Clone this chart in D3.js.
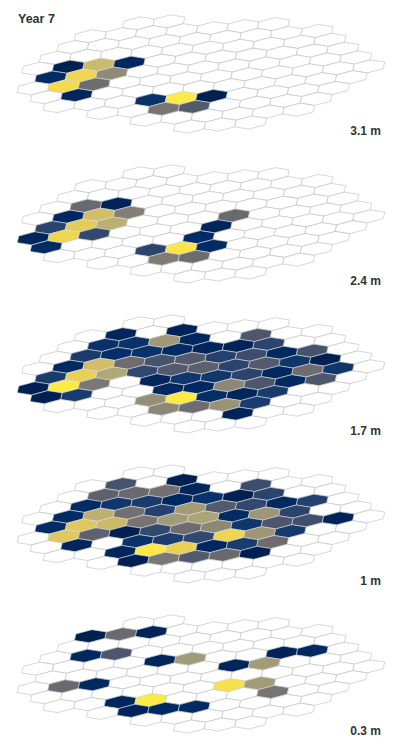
<!DOCTYPE html>
<html>
<head>
<meta charset="utf-8">
<script src="https://cdn.jsdelivr.net/npm/d3@7"></script>
<style>
  html, body { margin: 0; padding: 0; background: #ffffff; }
  svg { display: block; }
  text { font-family: "Liberation Sans", Arial, sans-serif; }
</style>
</head>
<body>
<div id="chart"></div>
<script>
// ---- data ----
const title = "Year 7";
const layerLabels = ["3.1 m", "2.4 m", "1.7 m", "1 m", "0.3 m"];

// grid footprint: [row j, first column i, last column i]
const gridRows = [
  [-4, 4, 5], [-3, 2, 8], [-2, 1, 9], [-1, 0, 9], [0, -1, 9], [1, -1, 9],
  [2, -2, 9], [3, -2, 8], [4, -2, 7], [5, -1, 6], [6, 0, 5], [7, 1, 3]
];

// filled cells per layer: [i, j, value 0..1]
const cells31 = [
  [0,0,0.0],[1,0,0.8],[2,0,0.04],[-1,1,0.06],[0,1,0.92],[1,1,0.58],
  [-1,2,0.94],[0,2,0.42],[-1,3,0.03],[1,4,0.1],[2,4,1.0],[3,4,0.0],
  [1,5,0.46],[2,5,0.32]
];
const cells24 = [
  [1,-1,0.4],[2,-1,0.02],[0,0,0.04],[1,0,0.82],[2,0,0.52],[-1,1,0.2],
  [0,1,0.88],[1,1,0.75],[-2,2,0.03],[-1,2,0.92],[0,2,0.22],[-2,3,0.06],
  [5,1,0.4],[4,2,0.03],[3,3,0.06],[1,4,0.2],[2,4,0.98],[3,4,0.06],
  [1,5,0.5],[2,5,0.42]
];
const cells17 = [
  [3,-3,0.03],[5,-3,0.02],
  [2,-2,0.1],[3,-2,0.1],[4,-2,0.65],[5,-2,0.04],[7,-2,0.3],
  [1,-1,0.15],[2,-1,0.08],[3,-1,0.1],[4,-1,0.06],[5,-1,0.03],[6,-1,0.02],[7,-1,0.2],
  [0,0,0.05],[1,0,0.82],[2,0,0.42],[3,0,0.28],[4,0,0.32],[5,0,0.18],[6,0,0.25],[7,0,0.05],[8,0,0.28],
  [-1,1,0.15],[0,1,0.9],[1,1,0.72],[2,1,0.22],[3,1,0.32],[4,1,0.35],[5,1,0.2],[6,1,0.32],[7,1,0.12],[8,1,0.0],
  [-2,2,0.0],[-1,2,1.0],[0,2,0.48],[2,2,0.03],[3,2,0.12],[4,2,0.12],[5,2,0.2],[6,2,0.04],[7,2,0.42],[8,2,0.12],
  [-2,3,0.0],[-1,3,0.15],[2,3,0.04],[3,3,0.04],[4,3,0.56],[5,3,0.3],[6,3,0.05],[7,3,0.3],
  [1,4,0.6],[2,4,1.0],[3,4,0.08],[4,4,0.03],[5,4,0.15],
  [1,5,0.56],[2,5,0.42],[3,5,0.62],[4,5,0.15],
  [3,6,0.02]
];
const cells10 = [
  [3,-3,0.28],[5,-3,0.0],
  [2,-2,0.36],[3,-2,0.4],[4,-2,0.44],[5,-2,0.03],[7,-2,0.25],
  [1,-1,0.06],[2,-1,0.12],[3,-1,0.15],[4,-1,0.04],[5,-1,0.1],[6,-1,0.0],[7,-1,0.2],
  [0,0,0.06],[1,0,0.76],[2,0,0.44],[3,0,0.18],[4,0,0.66],[5,0,0.32],[6,0,0.22],[7,0,0.05],[8,0,0.18],
  [-1,1,0.06],[0,1,0.86],[1,1,0.8],[2,1,0.46],[3,1,0.66],[4,1,0.7],[5,1,0.06],[6,1,0.64],[7,1,0.2],
  [-1,2,0.86],[0,2,0.36],[1,2,0.0],[2,2,0.22],[3,2,0.42],[4,2,0.56],[5,2,0.12],[6,2,0.3],[7,2,0.26],[8,2,0.02],
  [-1,3,0.03],[1,3,0.1],[2,3,0.16],[3,3,0.22],[4,3,0.92],[5,3,0.64],[6,3,0.14],
  [0,4,0.03],[1,4,1.0],[2,4,0.9],[3,4,0.04],[4,4,0.15],[5,4,0.42],
  [0,5,0.0],[1,5,0.48],[2,5,0.32],[3,5,0.4],[4,5,0.0]
];
const cells03 = [
  [2,-3,0.0],[3,-3,0.4],[4,-3,0.02],
  [1,-1,0.04],[2,-1,0.3],[3,0,0.03],[4,0,0.66],[5,1,0.03],[6,1,0.66],[7,0,0.02],[8,0,0.05],
  [-1,2,0.4],[0,2,0.05],[0,4,0.03],[1,4,1.0],[0,5,0.02],[1,5,0.05],[2,5,0.06],
  [4,3,0.96],[5,3,0.66],[5,4,0.46]
];
const layerCells = [cells31, cells24, cells17, cells10, cells03];

// ---- scales ----
const W = 400, H = 750;
const xFromI = d3.scaleLinear().domain([0, 1]).range([68.3, 98.8]);
const xFromJ = d3.scaleLinear().domain([0, 1]).range([0, 12.97]);
const yFromI = d3.scaleLinear().domain([0, 1]).range([0, -2.0]);
const yFromJ = d3.scaleLinear().domain([0, 1]).range([66.7, 75.53]);
const layerY = d3.scalePoint().domain(layerLabels).range([0, 600]);
const color = d3.scaleSequential(d3.interpolateCividis).domain([0, 1]);

const px = (i, j) => xFromI(i) + xFromJ(j);
const py = (i, j) => yFromI(i) + yFromJ(j);

// hexagon outline from lattice neighbour vectors
const E = [xFromI(1) - xFromI(0), yFromI(1) - yFromI(0)];
const S = [xFromJ(1) - xFromJ(0), yFromJ(1) - yFromJ(0)];
const v1 = [(E[0] + S[0]) / 3, (E[1] + S[1]) / 3];
const v2 = [(2 * S[0] - E[0]) / 3, (2 * S[1] - E[1]) / 3];
const v3 = [(S[0] - 2 * E[0]) / 3, (S[1] - 2 * E[1]) / 3];
const hexPts = [v1, v2, v3, [-v1[0], -v1[1]], [-v2[0], -v2[1]], [-v3[0], -v3[1]]];
const hexPath = (cx, cy) => "M" + hexPts.map(p => (cx + p[0]).toFixed(2) + "," + (cy + p[1]).toFixed(2)).join("L") + "Z";

const svg = d3.select("#chart").append("svg").attr("width", W).attr("height", H);

svg.append("text").attr("x", 18).attr("y", 23)
  .attr("font-size", 12.5).attr("font-weight", "bold").attr("fill", "#333")
  .text(title);

const gridCells = [];
gridRows.forEach(([j, a, b]) => { for (let i = a; i <= b; i++) gridCells.push([i, j]); });

layerLabels.forEach((lab, k) => {
  const g = svg.append("g").attr("transform", `translate(0,${layerY(lab)})`);
  const filled = new Map(layerCells[k].map(d => [d[0] + "," + d[1], d[2]]));
  g.selectAll("path.grid").data(gridCells).join("path")
    .attr("class", "grid")
    .attr("d", d => hexPath(px(d[0], d[1]), py(d[0], d[1])))
    .attr("fill", d => filled.has(d[0] + "," + d[1]) ? color(filled.get(d[0] + "," + d[1])) : "#ffffff")
    .attr("stroke", d => filled.has(d[0] + "," + d[1]) ? "#d8d8d8" : "#bcbcbc")
    .attr("stroke-width", 0.6);
  g.append("text").attr("x", 381).attr("y", 135).attr("text-anchor", "end")
    .attr("font-size", 12).attr("font-weight", "bold").attr("fill", "#333")
    .text(lab);
});
</script>
</body>
</html>
